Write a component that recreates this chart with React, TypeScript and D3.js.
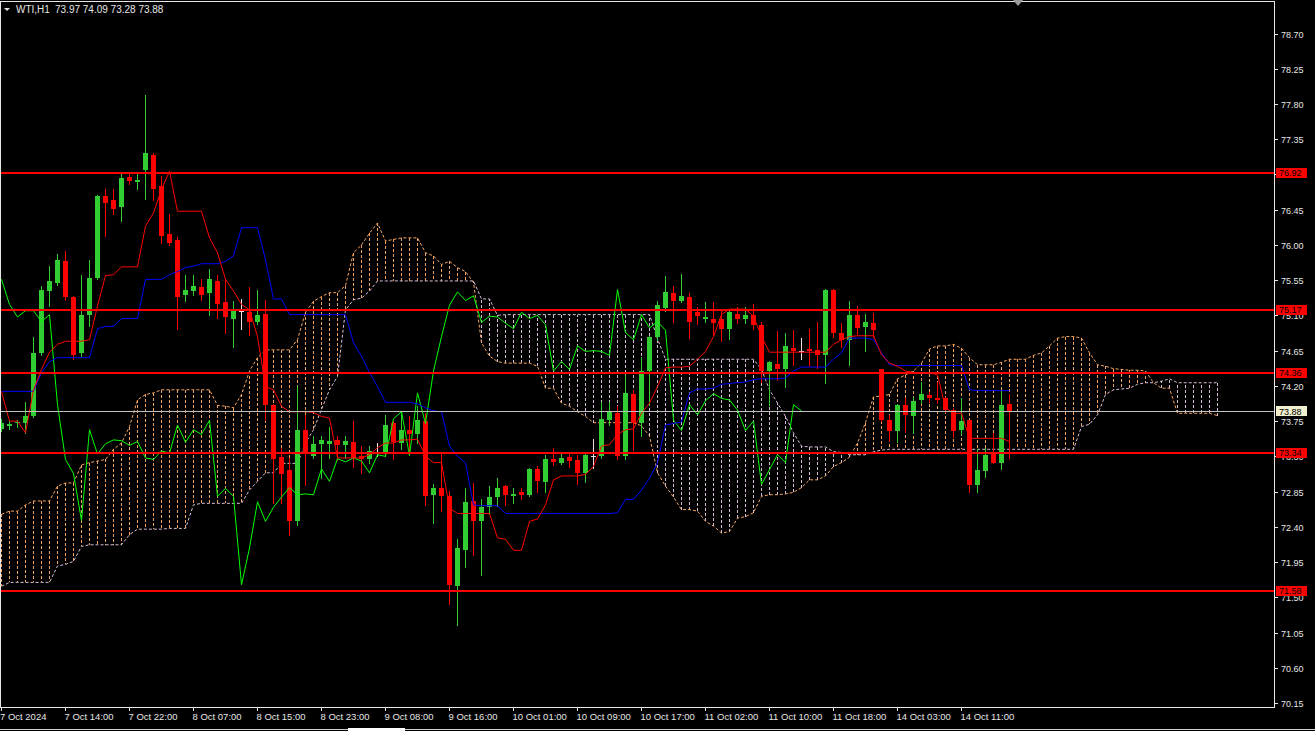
import React, { useEffect } from "react";
import * as d3 from "d3";

const W = 1315;
const H = 731;

const symbolName = "WTI,H1";

const openP = [
  73.65, 73.69, 73.72, 73.73, 73.81, 74.62, 75.41, 75.52, 75.80, 75.34,
  74.62, 75.10, 75.58, 76.63, 76.57, 76.48, 76.87, 76.80, 76.96, 77.15,
  76.75, 76.14, 76.06, 75.36, 75.41, 75.46, 75.38, 75.54, 75.27, 75.06,
  75.16, 75.14, 75.01, 75.12, 73.96, 73.29, 73.12, 72.48, 73.64, 73.31,
  73.46, 73.46, 73.51, 73.45, 73.48, 73.30, 73.26, 73.34, 73.36, 73.72,
  73.47, 73.64, 73.58, 73.75, 72.80, 72.90, 72.79, 71.64, 72.11, 72.73,
  72.48, 72.65, 72.78, 72.92, 72.79, 72.84, 72.80, 73.14, 72.97, 73.27,
  73.22, 73.29, 73.25, 73.09, 73.30, 73.31, 73.76, 73.85, 73.30, 74.10,
  73.73, 74.39, 74.82, 75.20, 75.39, 75.28, 75.34, 75.14, 75.05, 75.05,
  75.06, 74.92, 75.12, 75.05, 75.11, 74.98, 74.39, 74.48, 74.41, 74.68,
  74.65, 74.67, 74.66, 74.60, 75.43, 74.88, 74.79, 75.10, 74.95, 75.00,
  74.41, 73.76, 73.62, 73.95, 73.82, 74.02, 74.08, 74.05, 74.05, 73.89,
  73.64, 73.76, 72.94, 73.11, 73.34, 73.22, 73.97,
];

const highP = [
  73.78, 73.75, 73.76, 73.99, 74.83, 75.47, 75.73, 75.88, 75.92, 75.35,
  75.62, 75.81, 76.64, 76.72, 76.72, 76.91, 76.90, 76.90, 77.91, 77.18,
  76.88, 76.40, 76.10, 75.62, 75.61, 75.56, 75.69, 75.62, 75.57, 75.28,
  75.31, 75.46, 75.43, 75.30, 73.97, 73.41, 73.28, 74.20, 73.83, 73.56,
  73.56, 73.68, 73.56, 73.56, 73.75, 73.43, 73.43, 73.47, 73.83, 73.75,
  73.87, 73.81, 73.94, 73.85, 72.95, 73.34, 72.86, 72.24, 72.90, 72.96,
  72.75, 72.92, 73.02, 72.94, 72.90, 72.90, 73.15, 73.18, 73.32, 73.41,
  73.34, 73.34, 73.32, 73.36, 73.52, 73.99, 73.99, 73.94, 74.37, 74.15,
  74.57, 74.84, 75.28, 75.60, 75.47, 75.63, 75.38, 75.21, 75.27, 75.27,
  75.15, 75.18, 75.21, 75.21, 75.25, 75.02, 74.52, 74.90, 74.88, 74.91,
  74.81, 74.92, 75.02, 75.44, 75.44, 75.00, 75.28, 75.22, 75.12, 75.13,
  74.42, 73.83, 73.97, 74.05, 74.06, 74.25, 74.12, 74.25, 74.06, 73.92,
  74.05, 73.77, 73.40, 73.41, 73.60, 74.15, 74.09,
];

const lowP = [
  73.62, 73.65, 73.68, 73.60, 73.80, 74.60, 75.22, 75.49, 75.30, 74.54,
  74.58, 74.96, 75.56, 76.11, 76.39, 76.30, 76.78, 76.71, 76.59, 76.58,
  76.02, 76.00, 74.93, 75.29, 75.36, 75.30, 75.11, 75.07, 74.88, 74.69,
  74.93, 74.85, 74.99, 73.76, 72.71, 72.70, 72.29, 72.42, 72.93, 73.28,
  73.02, 73.28, 73.25, 73.28, 73.17, 73.09, 73.22, 73.30, 73.30, 73.27,
  73.39, 73.32, 73.47, 72.68, 72.45, 72.60, 71.41, 71.15, 71.89, 72.04,
  71.79, 72.56, 72.66, 72.68, 72.70, 72.76, 72.79, 72.84, 72.85, 73.19,
  73.20, 73.17, 72.95, 72.97, 73.15, 73.28, 73.70, 73.27, 73.26, 73.38,
  73.56, 73.96, 74.79, 75.15, 75.02, 75.27, 74.81, 74.99, 75.02, 74.85,
  74.77, 74.80, 75.00, 75.00, 74.92, 74.25, 73.96, 74.28, 74.19, 74.47,
  74.54, 74.45, 74.43, 74.24, 74.83, 74.70, 74.47, 74.86, 74.64, 74.83,
  73.75, 73.49, 73.48, 73.61, 73.60, 73.98, 73.99, 73.98, 73.86, 73.55,
  73.58, 72.84, 72.85, 73.04, 73.21, 73.14, 73.28,
];

const closeP = [
  73.73, 73.71, 73.74, 73.81, 74.62, 75.43, 75.54, 75.81, 75.34, 74.60,
  75.11, 75.58, 76.63, 76.54, 76.46, 76.86, 76.81, 76.83, 77.17, 76.72,
  76.12, 76.03, 75.34, 75.43, 75.47, 75.36, 75.56, 75.24, 75.08, 75.16,
  75.16, 75.02, 75.11, 73.96, 73.26, 73.08, 72.48, 73.64, 73.33, 73.46,
  73.51, 73.50, 73.44, 73.49, 73.28, 73.26, 73.37, 73.34, 73.70, 73.48,
  73.64, 73.58, 73.76, 72.79, 72.89, 72.79, 71.66, 72.13, 72.72, 72.47,
  72.65, 72.78, 72.90, 72.81, 72.82, 72.81, 73.14, 72.98, 73.27, 73.23,
  73.28, 73.24, 73.09, 73.32, 73.30, 73.78, 73.87, 73.31, 74.11, 73.72,
  74.39, 74.83, 75.23, 75.40, 75.29, 75.35, 75.01, 75.09, 75.08, 75.00,
  74.93, 75.14, 75.06, 75.10, 74.98, 74.39, 74.51, 74.41, 74.71, 74.64,
  74.65, 74.64, 74.59, 75.43, 74.88, 74.79, 75.11, 74.94, 75.02, 74.91,
  73.76, 73.63, 73.96, 73.83, 74.01, 74.10, 74.04, 74.02, 73.89, 73.63,
  73.75, 72.94, 73.13, 73.32, 73.22, 73.96, 73.88,
];

// Ichimoku lines
const tenkanSen = [
  74.13, 73.75, 73.75, 73.60, 74.15, 74.41, 74.63, 74.73, 74.77, 74.77,
  74.77, 74.79, 75.22, 75.61, 75.62, 75.72, 75.72, 75.72, 76.24, 76.41,
  76.71, 76.94, 76.43, 76.43, 76.43, 76.43, 76.09, 75.90, 75.56, 75.41,
  75.24, 75.17, 74.83, 74.19, 74.15, 73.94, 73.87, 73.87, 73.87, 73.86,
  73.81, 73.79, 73.28, 73.28, 73.28, 73.28, 73.32, 73.41, 73.47, 73.47,
  73.51, 73.51, 73.52, 73.30, 73.22, 73.22, 72.64, 72.57, 72.57, 72.57,
  72.57, 72.57, 72.26, 72.24, 72.10, 72.10, 72.47, 72.50, 72.68, 73.00,
  73.05, 73.05, 73.05, 73.07, 73.17, 73.43, 73.45, 73.58, 73.64, 73.65,
  73.85, 73.98, 74.19, 74.43, 74.44, 74.44, 74.45, 74.54, 74.64, 74.83,
  75.11, 75.18, 75.18, 75.18, 75.09, 74.83, 74.63, 74.63, 74.63, 74.63,
  74.63, 74.63, 74.63, 74.63, 74.73, 74.79, 74.83, 74.84, 74.84, 74.84,
  74.60, 74.49, 74.45, 74.39, 74.37, 74.37, 74.37, 74.34, 73.92, 73.85,
  73.85, 73.53, 73.53, 73.53, 73.53, 73.53, 73.49,
];

const kijunSen = [
  74.13, 74.13, 74.13, 74.13, 74.13, 74.37, 74.51, 74.56, 74.56, 74.56,
  74.56, 74.56, 74.93, 74.96, 74.96, 75.06, 75.06, 75.06, 75.56, 75.56,
  75.56, 75.62, 75.66, 75.71, 75.73, 75.76, 75.76, 75.76, 75.79, 75.86,
  76.22, 76.22, 76.22, 75.81, 75.31, 75.31, 75.11, 75.11, 75.11, 75.11,
  75.11, 75.11, 75.11, 75.11, 74.75, 74.58, 74.37, 74.19, 73.99, 73.99,
  73.99, 73.99, 73.97, 73.92, 73.88, 73.87, 73.43, 73.30, 73.22, 72.68,
  72.67, 72.67, 72.67, 72.57, 72.57, 72.57, 72.57, 72.57, 72.57, 72.57,
  72.57, 72.57, 72.57, 72.57, 72.57, 72.57, 72.57, 72.58, 72.75, 72.75,
  72.87, 73.02, 73.22, 73.70, 73.72, 73.74, 74.11, 74.16, 74.16, 74.17,
  74.22, 74.23, 74.24, 74.25, 74.28, 74.29, 74.29, 74.29, 74.30, 74.39,
  74.44, 74.44, 74.44, 74.44, 74.54, 74.62, 74.81, 74.81, 74.81, 74.79,
  74.62, 74.47, 74.46, 74.46, 74.46, 74.46, 74.46, 74.46, 74.46, 74.46,
  74.46, 74.15, 74.14, 74.14, 74.14, 74.14, 74.14,
];

const senkouA = [
  72.56, 72.60, 72.60, 72.68, 72.73, 72.73, 72.73, 72.92, 72.96, 72.96,
  73.19, 73.22, 73.24, 73.26, 73.39, 73.47, 73.68, 74.02, 74.09, 74.11,
  74.15, 74.15, 74.15, 74.15, 74.15, 74.15, 74.15, 73.95, 73.94, 73.92,
  74.09, 74.39, 74.56, 74.66, 74.66, 74.66, 74.66, 74.79, 75.14, 75.28,
  75.34, 75.39, 75.39, 75.48, 75.90, 76.00, 76.15, 76.28, 76.05, 76.07,
  76.09, 76.09, 76.09, 75.90, 75.86, 75.75, 75.79, 75.71, 75.66, 75.52,
  74.75, 74.58, 74.51, 74.49, 74.49, 74.49, 74.49, 74.45, 74.17, 74.17,
  73.98, 73.94, 73.87, 73.81, 73.73, 73.73, 73.73, 73.73, 73.73, 73.73,
  73.69, 73.56, 73.09, 72.92, 72.78, 72.62, 72.62, 72.60, 72.47, 72.41,
  72.32, 72.34, 72.51, 72.53, 72.58, 72.79, 72.81, 72.81, 72.82, 72.84,
  72.90, 73.00, 73.00, 73.05, 73.17, 73.22, 73.29, 73.47, 73.73, 74.06,
  74.07, 74.09, 74.29, 74.34, 74.39, 74.49, 74.67, 74.71, 74.71, 74.73,
  74.68, 74.56, 74.47, 74.47, 74.47, 74.50, 74.54, 74.54, 74.54, 74.59,
  74.62, 74.71, 74.81, 74.83, 74.83, 74.81, 74.62, 74.47, 74.45, 74.42,
  74.41, 74.40, 74.40, 74.39, 74.24, 74.17, 74.17, 73.85, 73.85, 73.85,
  73.85, 73.85, 73.82,
];

const senkouB = [
  71.64, 71.69, 71.69, 71.69, 71.69, 71.69, 71.69, 71.90, 71.92, 71.96,
  72.15, 72.17, 72.17, 72.17, 72.17, 72.17, 72.30, 72.37, 72.37, 72.37,
  72.37, 72.38, 72.38, 72.38, 72.68, 72.70, 72.70, 72.70, 72.70, 72.70,
  72.70, 72.87, 72.98, 73.09, 73.09, 73.21, 73.21, 73.21, 73.47, 73.64,
  73.90, 74.15, 74.32, 75.17, 75.30, 75.32, 75.41, 75.54, 75.54, 75.54,
  75.54, 75.54, 75.54, 75.54, 75.54, 75.54, 75.54, 75.54, 75.54, 75.54,
  75.31, 75.31, 75.10, 75.11, 75.11, 75.11, 75.11, 75.11, 75.11, 75.11,
  75.11, 75.11, 75.11, 75.11, 75.11, 75.11, 75.11, 75.11, 75.11, 75.11,
  75.11, 75.11, 74.80, 74.54, 74.54, 74.54, 74.54, 74.54, 74.54, 74.54,
  74.54, 74.54, 74.54, 74.54, 74.54, 74.41, 74.15, 73.98, 73.81, 73.60,
  73.43, 73.42, 73.42, 73.42, 73.36, 73.35, 73.32, 73.32, 73.32, 73.36,
  73.38, 73.39, 73.39, 73.39, 73.39, 73.39, 73.39, 73.39, 73.39, 73.39,
  73.39, 73.39, 73.39, 73.39, 73.39, 73.39, 73.39, 73.39, 73.39, 73.39,
  73.39, 73.39, 73.39, 73.39, 73.39, 73.68, 73.71, 73.83, 74.09, 74.15,
  74.16, 74.17, 74.22, 74.24, 74.24, 74.26, 74.29, 74.24, 74.24, 74.24,
  74.24, 74.24, 74.24,
];

const chikouShift = 26;

const levelLines = [76.92, 75.17, 74.36, 73.34, 71.58];
const bidPrice = 73.88;

const priceTicks = [
  78.7, 78.25, 77.8, 77.35, 76.9, 76.45, 76.0, 75.55, 75.1, 74.65,
  74.2, 73.75, 73.3, 72.85, 72.4, 71.95, 71.5, 71.05, 70.6, 70.15,
];

const timeLabels = [
  "7 Oct 2024", "7 Oct 14:00", "7 Oct 22:00", "8 Oct 07:00", "8 Oct 15:00",
  "8 Oct 23:00", "9 Oct 08:00", "9 Oct 16:00", "10 Oct 01:00", "10 Oct 09:00",
  "10 Oct 17:00", "11 Oct 02:00", "11 Oct 10:00", "11 Oct 18:00", "14 Oct 03:00",
  "14 Oct 11:00",
];
const barsPerLabel = 8;

const COLORS = {
  bull: "#32cd32",
  bear: "#ff0000",
  doji: "#f3dede",
  tenkan: "#ff0000",
  kijun: "#0000ff",
  chikou: "#00ff00",
  spanA: "#f4a460",
  spanB: "#d8bfd8",
  level: "#ff0000",
  bid: "#c0c0c0",
  fg: "#e6e6e6",
};

const FONT = "'Liberation Sans', Arial, sans-serif";

export default function App() {
  useEffect(() => {
    document.body.style.margin = "0";
    document.body.style.background = "#000";
  }, []);

  const plotRight = 1274;
  const plotBottom = 707;
  const plotTop = 1.5;

  const x = d3.scaleLinear().domain([0, 1]).range([1.5, 9.5]);
  const y = d3.scaleLinear().domain([70.15, 78.7]).range([703, 33.5]);
  const py = (v: number) => Math.round(y(v)) + 0.5;

  const n = closeP.length;
  const line = d3
    .line<[number, number]>()
    .x((d) => d[0])
    .y((d) => d[1]);

  const tenkanPath = line(tenkanSen.map((v, i) => [x(i), y(v)]));
  const kijunPath = line(kijunSen.map((v, i) => [x(i), y(v)]));
  const chikouPath = line(
    closeP.slice(chikouShift).map((v, i) => [x(i), y(v)])
  );
  const spanAPath = line(senkouA.map((v, i) => [x(i), y(v)]));
  const spanBPath = line(senkouB.map((v, i) => [x(i), y(v)]));

  const last = n - 1;
  const headerValues = [openP[last], highP[last], lowP[last], closeP[last]]
    .map((v) => v.toFixed(2))
    .join(" ");

  return (
    <svg
      width={W}
      height={H}
      style={{ display: "block", background: "#000" }}
      fontFamily={FONT}
    >
      <rect x={0} y={0} width={W} height={H} fill="#000" />
      <defs>
        <clipPath id="plot">
          <rect x={0} y={plotTop} width={plotRight} height={plotBottom - plotTop} />
        </clipPath>
      </defs>

      <g clipPath="url(#plot)">
        {/* Kumo hatch */}
        <g shapeRendering="crispEdges">
          {senkouA.map((a, i) => {
            const b = senkouB[i];
            return (
              <line
                key={"h" + i}
                x1={x(i)}
                x2={x(i)}
                y1={y(a)}
                y2={y(b)}
                stroke={a >= b ? COLORS.spanA : COLORS.spanB}
                strokeWidth={1}
                strokeDasharray="3,2"
              />
            );
          })}
        </g>
        <path d={spanAPath || ""} fill="none" stroke={COLORS.spanA} strokeWidth={1} strokeDasharray="3,2" />
        <path d={spanBPath || ""} fill="none" stroke={COLORS.spanB} strokeWidth={1} strokeDasharray="3,2" />

        {/* Candles */}
        <g shapeRendering="crispEdges">
          {closeP.map((c, i) => {
            const o = openP[i];
            const cx = x(i);
            const color = c > o ? COLORS.bull : c < o ? COLORS.bear : COLORS.doji;
            const top = Math.round(y(Math.max(o, c)));
            const bot = Math.round(y(Math.min(o, c)));
            return (
              <g key={"c" + i}>
                <line
                  x1={cx}
                  x2={cx}
                  y1={Math.round(y(highP[i]))}
                  y2={Math.round(y(lowP[i])) + 1}
                  stroke={color}
                  strokeWidth={1}
                />
                <rect
                  x={cx - 2.5}
                  y={top}
                  width={5}
                  height={Math.max(1, bot - top)}
                  fill={color}
                />
              </g>
            );
          })}
        </g>

        {/* Ichimoku lines */}
        <path d={chikouPath || ""} fill="none" stroke={COLORS.chikou} strokeWidth={1} />
        <path d={kijunPath || ""} fill="none" stroke={COLORS.kijun} strokeWidth={1} />
        <path d={tenkanPath || ""} fill="none" stroke={COLORS.tenkan} strokeWidth={1} />

        {/* Bid line */}
        <line
          x1={0}
          x2={plotRight}
          y1={py(bidPrice)}
          y2={py(bidPrice)}
          stroke={COLORS.bid}
          strokeWidth={1}
          shapeRendering="crispEdges"
        />

        {/* Horizontal level lines */}
        {levelLines.map((lv) => (
          <line
            key={"l" + lv}
            x1={0}
            x2={plotRight}
            y1={Math.round(y(lv))}
            y2={Math.round(y(lv))}
            stroke={COLORS.level}
            strokeWidth={2}
            shapeRendering="crispEdges"
          />
        ))}
      </g>

      {/* Frame */}
      <rect
        x={0.5}
        y={plotTop}
        width={plotRight - 0.5}
        height={plotBottom - plotTop}
        fill="none"
        stroke={COLORS.fg}
        strokeWidth={1}
        shapeRendering="crispEdges"
      />

      {/* Price axis */}
      <g fontSize={9} fill={COLORS.fg}>
        {priceTicks.map((t) => (
          <g key={"t" + t}>
            <line
              x1={plotRight}
              x2={plotRight + 4}
              y1={py(t)}
              y2={py(t)}
              stroke={COLORS.fg}
              shapeRendering="crispEdges"
            />
            <text x={plotRight + 7} y={py(t)} dominantBaseline="central">
              {t.toFixed(2)}
            </text>
          </g>
        ))}
      </g>

      {/* Level labels (drawn over the axis, as in the terminal) */}
      {levelLines.map((lv) => (
        <g key={"lb" + lv}>
          <rect x={plotRight + 2} y={Math.round(y(lv)) - 5} width={31} height={10} fill={COLORS.level} />
          <text
            x={plotRight + 5}
            y={Math.round(y(lv))}
            dominantBaseline="central"
            fontSize={9}
            fill="#000"
          >
            {lv.toFixed(2)}
          </text>
        </g>
      ))}
      <g>
        <rect x={plotRight + 2} y={py(bidPrice) - 5.5} width={31} height={10} fill="#f2efcf" />
        <text
          x={plotRight + 5}
          y={py(bidPrice)}
          dominantBaseline="central"
          fontSize={9}
          fill="#000"
        >
          {bidPrice.toFixed(2)}
        </text>
      </g>

      {/* Time axis */}
      <g fontSize={9.5} fill={COLORS.fg}>
        {timeLabels.map((lab, k) => {
          const tx = Math.round(x(k * barsPerLabel)) - 0.5;
          return (
            <g key={"x" + k}>
              <line
                x1={tx}
                x2={tx}
                y1={plotBottom}
                y2={plotBottom + 4}
                stroke={COLORS.fg}
                shapeRendering="crispEdges"
              />
              <text x={k === 0 ? 0 : tx - 1} y={720}>
                {lab}
              </text>
            </g>
          );
        })}
      </g>

      {/* Header */}
      <path d="M4,8 L10,8 L7,11 Z" fill={COLORS.fg} />
      <text x={16} y={12.5} fontSize={10} fill={COLORS.fg}>
        {symbolName}
      </text>
      <text x={55} y={12.5} fontSize={10} fill={COLORS.fg}>
        {headerValues}
      </text>

      {/* chart shift marker */}
      <path d="M1013,0 L1023,0 L1018,6 Z" fill="#9a9a9a" />

      {/* bottom bar */}
      <line x1={0} x2={W} y1={729.5} y2={729.5} stroke="#cfcfcf" strokeWidth={1} />
      <rect x={348} y={728} width={57} height={3} fill="#ffffff" />
    </svg>
  );
}
